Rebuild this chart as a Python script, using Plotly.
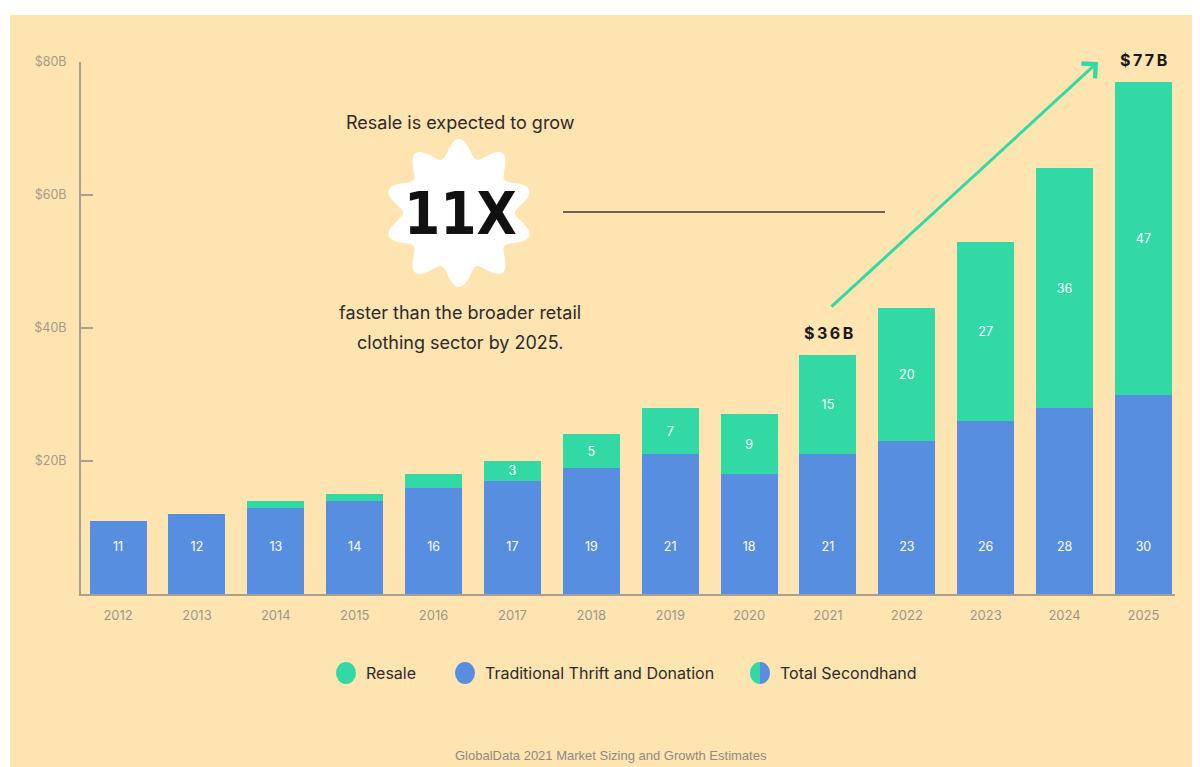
import math
import plotly.graph_objects as go

years = ["2012", "2013", "2014", "2015", "2016", "2017", "2018", "2019",
         "2020", "2021", "2022", "2023", "2024", "2025"]
traditional = [11, 12, 13, 14, 16, 17, 19, 21, 18, 21, 23, 26, 28, 30]
resale = [0, 0, 1, 1, 2, 3, 5, 7, 9, 15, 20, 27, 36, 47]
y_tickvals = [20, 40, 60, 80]
y_ticktext = ["$20B", "$40B", "$60B", "$80B"]

GREEN = "#33D9A5"
BLUE = "#588EE0"
BG = "#FEE4B1"
AXIS = "#A89F8E"
DARK = "#2B2B2B"

OFF = 8  # page body margin
W, H = 1200 - OFF, 767 - OFF
L, R, T, B = 81 - OFF, 25, 62 - OFF, 173
PW = W - L - R
PH = H - T - B


def px(xp):
    return (xp - OFF - L) / PW


def py(yp):
    return (H - B - (yp - OFF)) / PH


fig = go.Figure()

fig.add_trace(go.Bar(
    x=years, y=traditional, name="Traditional Thrift and Donation",
    marker=dict(color=BLUE, line=dict(width=0)), showlegend=False,
    hoverinfo="skip",
))
fig.add_trace(go.Bar(
    x=years, y=resale, name="Resale",
    marker=dict(color=GREEN, line=dict(width=0)), showlegend=False,
    text=[str(v) if v >= 3 else "" for v in resale],
    textposition="inside", insidetextanchor="middle", textangle=0,
    textfont=dict(color="white", size=12.5, family="Inter"),
    constraintext="none", hoverinfo="skip",
))
fig.add_trace(go.Scatter(
    x=years, y=[7] * len(years), mode="text",
    text=[str(v) for v in traditional],
    textfont=dict(color="white", size=12.5, family="Inter"),
    showlegend=False, hoverinfo="skip",
))

shapes = []
shapes.append(dict(type="rect", xref="paper", yref="paper",
                   x0=px(10), x1=px(1210), y0=py(780), y1=py(15),
                   fillcolor=BG, line=dict(width=0), layer="below"))

# starburst badge
cx, cy = 459, 213
pts = []
n = 240
for i in range(n + 1):
    th = 2 * math.pi * i / n
    r = 65 + 9 * math.cos(10 * th)
    pts.append((cx + r * math.sin(th), cy - r * math.cos(th)))
path = "M " + " L ".join(f"{px(a):.5f},{py(b):.5f}" for a, b in pts) + " Z"
shapes.append(dict(type="path", xref="paper", yref="paper", path=path,
                   fillcolor="white", line=dict(width=0), layer="above"))

shapes.append(dict(type="line", xref="paper", yref="paper",
                   x0=px(563), x1=px(885), y0=py(212), y1=py(212),
                   line=dict(color="#3A3A3A", width=1.5)))

rx, ry = 10, 11
for cxp, col in [(346, GREEN), (465, BLUE)]:
    shapes.append(dict(type="circle", xref="paper", yref="paper",
                       x0=px(cxp - rx), x1=px(cxp + rx),
                       y0=py(673 + ry), y1=py(673 - ry),
                       fillcolor=col, line=dict(width=0)))


def half(cxp, cyp, left, col):
    pp = []
    m = 40
    for i in range(m + 1):
        th = math.pi / 2 + math.pi * i / m if left else -math.pi / 2 + math.pi * i / m
        pp.append((cxp + rx * math.cos(th), cyp - ry * math.sin(th)))
    p = "M " + " L ".join(f"{px(a):.5f},{py(b):.5f}" for a, b in pp) + " Z"
    return dict(type="path", xref="paper", yref="paper", path=p,
                fillcolor=col, line=dict(width=0))


shapes.append(half(760, 673, True, GREEN))
shapes.append(half(760, 673, False, BLUE))

annotations = []


def txt(x, y, s, size, color=DARK, family="Inter", xanchor="center", **kw):
    annotations.append(dict(xref="paper", yref="paper", x=px(x), y=py(y),
                            text=s, showarrow=False, xanchor=xanchor,
                            yanchor="middle",
                            font=dict(size=size, color=color, family=family),
                            **kw))


txt(460, 122, "Resale is expected to grow", 18)
txt(460, 214, "<b>11X</b>", 58, color="#111111",
    family="Liberation Sans Narrow, DejaVu Sans Condensed, Arial Narrow")
txt(460, 312, "faster than the broader retail", 18)
txt(460, 342, "clothing sector by 2025.", 18)
txt(828, 333, "<b>$\u20093\u20096\u2009B</b>", 16, color="#1A1A1A")
txt(1143, 60, "<b>$\u20097\u20097\u2009B</b>", 16, color="#1A1A1A")
txt(364, 673, "Resale", 16, xanchor="left")
txt(483, 673, "Traditional Thrift and Donation", 16, xanchor="left")
txt(778, 673, "Total Secondhand", 16, xanchor="left")
txt(611, 755, "GlobalData 2021 Market Sizing and Growth Estimates", 13,
    color="#8E8A82", family="Liberation Sans, Arial")

annotations.append(dict(xref="paper", yref="paper", x=px(1098), y=py(62),
                        axref="pixel", ayref="pixel", ax=830 - 1098, ay=308 - 62,
                        text="", showarrow=True, arrowhead=4, arrowsize=1.3,
                        arrowwidth=3, arrowcolor=GREEN))

fig.update_layout(
    width=W, height=H,
    margin=dict(l=L, r=R, t=T, b=B, pad=0),
    paper_bgcolor="white", plot_bgcolor="rgba(0,0,0,0)",
    barmode="stack", bargap=0.277,
    shapes=shapes, annotations=annotations,
    showlegend=False,
    font=dict(family="Inter"),
    xaxis=dict(type="category", range=[-0.47, 13.4], showline=True,
               linecolor=AXIS, linewidth=2, ticks="", showgrid=False,
               zeroline=False, ticklabelstandoff=8,
               tickfont=dict(size=13, color="#9E968A", family="Inter")),
    yaxis=dict(range=[0, 80], showline=True, linecolor=AXIS, linewidth=2,
               ticks="inside", ticklen=12, tickwidth=2, tickcolor=AXIS,
               tickvals=y_tickvals, ticktext=y_ticktext, showgrid=False,
               zeroline=False, ticklabelstandoff=10,
               tickfont=dict(size=12.5, color="#A59B88", family="Inter")),
)

fig.write_html("out.html")
